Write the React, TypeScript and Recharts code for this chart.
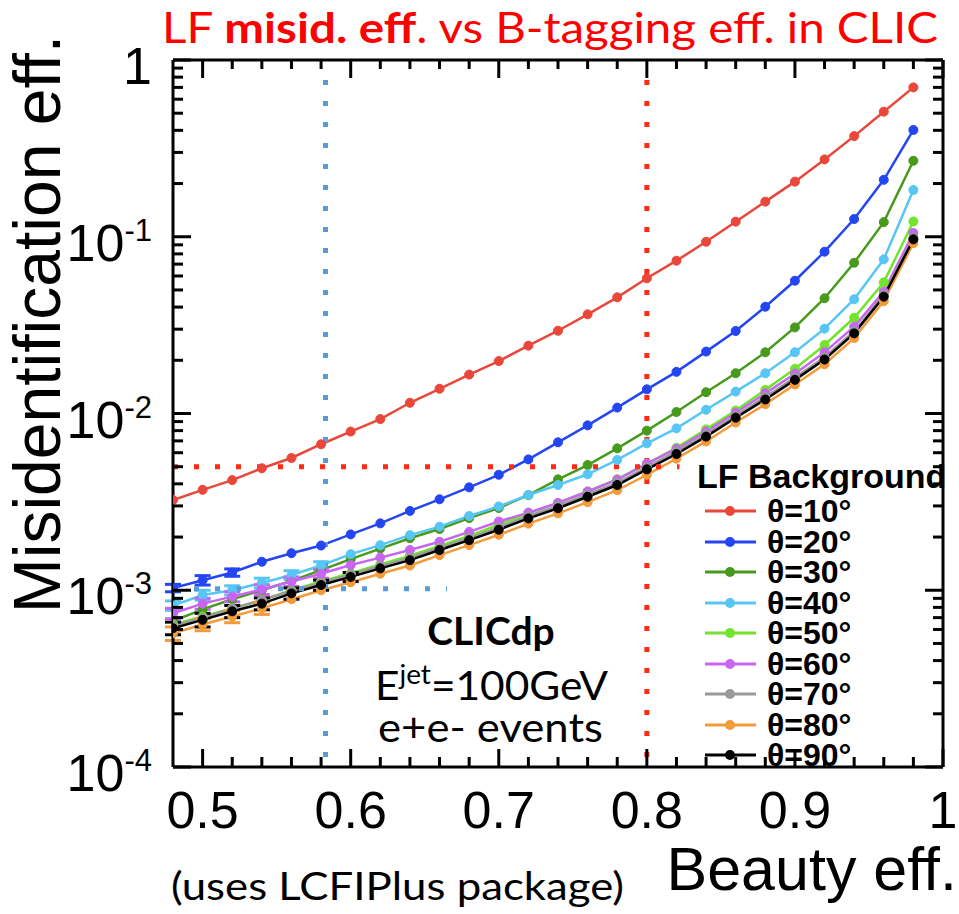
import React from 'react';
import { LineChart, Line, XAxis, YAxis, ReferenceLine, Legend, ErrorBar } from 'recharts';

// beauty (b-tagging) efficiency, one point every 0.02
const beautyEff = [0.48, 0.5, 0.52, 0.54, 0.56, 0.58, 0.6, 0.62, 0.64, 0.66, 0.68, 0.7, 0.72,
  0.74, 0.76, 0.78, 0.8, 0.82, 0.84, 0.86, 0.88, 0.9, 0.92, 0.94, 0.96, 0.98];

// LF misidentification efficiency per polar angle
const theta10 = [3.24e-3, 3.7e-3, 4.2e-3, 4.9e-3, 5.6e-3, 6.7e-3, 7.9e-3, 9.3e-3, 0.0115, 0.0138, 0.0166,
  0.0198, 0.0242, 0.0294, 0.0364, 0.0454, 0.0582, 0.0732, 0.0937, 0.1217, 0.158, 0.205, 0.274, 0.371, 0.51, 0.7];
const theta20 = [1.03e-3, 1.14e-3, 1.26e-3, 1.45e-3, 1.62e-3, 1.79e-3, 2.07e-3, 2.39e-3, 2.81e-3, 3.27e-3,
  3.82e-3, 4.5e-3, 5.5e-3, 6.87e-3, 8.57e-3, 0.0108, 0.0137, 0.0172, 0.0224, 0.0293, 0.0402, 0.0564, 0.0823,
  0.126, 0.21, 0.402];
const theta30 = [6.7e-4, 7.8e-4, 8.9e-4, 1.0e-3, 1.13e-3, 1.3e-3, 1.5e-3, 1.72e-3, 1.97e-3, 2.22e-3, 2.56e-3,
  2.92e-3, 3.45e-3, 4.24e-3, 5.11e-3, 6.35e-3, 8.0e-3, 0.0102, 0.0132, 0.0169, 0.0222, 0.0307, 0.0449, 0.0713,
  0.121, 0.269];
const theta40 = [8.2e-4, 9.4e-4, 1.0e-3, 1.1e-3, 1.22e-3, 1.38e-3, 1.6e-3, 1.8e-3, 2.05e-3, 2.29e-3, 2.63e-3,
  2.98e-3, 3.46e-3, 3.94e-3, 4.53e-3, 5.46e-3, 6.78e-3, 8.24e-3, 0.0105, 0.0133, 0.0169, 0.0222, 0.0302, 0.0443,
  0.0745, 0.184];
const theta50 = [6.4e-4, 7.1e-4, 7.9e-4, 8.8e-4, 1.0e-3, 1.12e-3, 1.25e-3, 1.4e-3, 1.57e-3, 1.78e-3, 2.03e-3,
  2.35e-3, 2.72e-3, 3.12e-3, 3.62e-3, 4.25e-3, 5.2e-3, 6.4e-3, 8.13e-3, 0.0104, 0.0136, 0.0179, 0.0244, 0.0348,
  0.0552, 0.122];
const theta60 = [7.4e-4, 8.4e-4, 9.2e-4, 1.01e-3, 1.12e-3, 1.24e-3, 1.39e-3, 1.53e-3, 1.69e-3, 1.88e-3, 2.14e-3,
  2.45e-3, 2.75e-3, 3.12e-3, 3.62e-3, 4.22e-3, 5.2e-3, 6.3e-3, 7.9e-3, 0.0101, 0.013, 0.0168, 0.0222, 0.031,
  0.0489, 0.105];
const theta70 = [6.3e-4, 7.0e-4, 7.9e-4, 8.8e-4, 9.9e-4, 1.1e-3, 1.23e-3, 1.37e-3, 1.53e-3, 1.74e-3, 1.98e-3,
  2.27e-3, 2.63e-3, 3.0e-3, 3.48e-3, 4.05e-3, 4.97e-3, 6.08e-3, 7.6e-3, 9.7e-3, 0.0124, 0.016, 0.0208, 0.0292,
  0.047, 0.099];
const theta80 = [5.7e-4, 6.4e-4, 7.1e-4, 7.9e-4, 8.9e-4, 1.0e-3, 1.11e-3, 1.24e-3, 1.38e-3, 1.58e-3, 1.8e-3,
  2.06e-3, 2.38e-3, 2.72e-3, 3.15e-3, 3.68e-3, 4.5e-3, 5.55e-3, 6.95e-3, 8.9e-3, 0.0113, 0.0146, 0.019, 0.0267,
  0.0432, 0.092];
const theta90 = [6.1e-4, 6.8e-4, 7.6e-4, 8.4e-4, 9.6e-4, 1.07e-3, 1.19e-3, 1.33e-3, 1.48e-3, 1.69e-3, 1.92e-3,
  2.2e-3, 2.55e-3, 2.91e-3, 3.38e-3, 3.94e-3, 4.83e-3, 5.9e-3, 7.4e-3, 9.47e-3, 0.012, 0.0155, 0.0202, 0.0284,
  0.0458, 0.0967];

// stat. errors, only visible on the first few points
const err20 = [5e-5, 7e-5, 6e-5];
const err40 = [5e-5, 6e-5, 6e-5, 7e-5, 7e-5, 7e-5];
const err60 = [5e-5, 6e-5, 6e-5, 6.5e-5, 7e-5, 7e-5];
const err80 = [5e-5, 5e-5, 5.5e-5, 6e-5];
const err90 = [5e-5, 6e-5, 6e-5, 6.5e-5, 7e-5, 7e-5, 7e-5];

const seriesNames = ['θ=10°', 'θ=20°', 'θ=30°', 'θ=40°', 'θ=50°', 'θ=60°', 'θ=70°', 'θ=80°', 'θ=90°'];
const seriesColors = ['#e9473a', '#2446f2', '#479a1c', '#57c6f4', '#72e42c', '#c866f2', '#9a9a9a', '#f39b3a', '#000000'];

const xTicks = [0.5, 0.52, 0.54, 0.56, 0.58, 0.6, 0.62, 0.64, 0.66, 0.68, 0.7, 0.72, 0.74, 0.76, 0.78, 0.8,
  0.82, 0.84, 0.86, 0.88, 0.9, 0.92, 0.94, 0.96, 0.98, 1];
const yTicks = [1e-4, 2e-4, 3e-4, 4e-4, 5e-4, 6e-4, 7e-4, 8e-4, 9e-4,
  1e-3, 2e-3, 3e-3, 4e-3, 5e-3, 6e-3, 7e-3, 8e-3, 9e-3,
  1e-2, 2e-2, 3e-2, 4e-2, 5e-2, 6e-2, 7e-2, 8e-2, 9e-2,
  1e-1, 2e-1, 3e-1, 4e-1, 5e-1, 6e-1, 7e-1, 8e-1, 9e-1, 1];
const yMajorExp = [-4, -3, -2, -1, 0];

// working point guides: [x1, y1, x2, y2]
const redVertical = [0.8, 0.77, 0.8, 1e-4];
const redHorizontal = [0.48, 5e-3, 0.822, 5e-3];
const blueVertical = [0.583, 0.77, 0.583, 1e-4];
const blueHorizontal = [0.48, 1.02e-3, 0.665, 1.02e-3];

const seriesValues = [theta10, theta20, theta30, theta40, theta50, theta60, theta70, theta80, theta90];
const seriesErrors: Record<number, number[]> = { 1: err20, 3: err40, 5: err60, 7: err80, 8: err90 };

const data = beautyEff.map((x, i) => {
  const row: any = { x };
  seriesValues.forEach((vals, k) => {
    row['s' + k] = vals[i];
    const e = seriesErrors[k];
    if (e && e[i] !== undefined) row['e' + k] = e[i];
  });
  return row;
});

const SANS = '"Liberation Sans", Arial, Helvetica, sans-serif';
const CAL = 'Lato, "Open Sans", sans-serif';

const isMajorX = (v: number) => Math.abs(v * 10 - Math.round(v * 10)) < 1e-6;
const logExp = (v: number) => Math.round(Math.log10(v));
const isMajorY = (v: number) => yMajorExp.some((e) => Math.abs(Math.log10(v) - e) < 1e-6);

const BottomTick = (props: any) => {
  const { x, y, payload } = props;
  const v = payload.value;
  const major = isMajorX(v);
  return (
    <g>
      <line x1={x} y1={y} x2={x} y2={y - (major ? 18 : 10)} stroke="#000" strokeWidth={3} />
      {major && (
        <text x={x} y={y + 61} textAnchor="middle" fontSize={52} fontFamily={SANS} fill="#000">
          {String(Math.round(v * 10) / 10)}
        </text>
      )}
    </g>
  );
};

const TopTick = (props: any) => {
  const { x, y, payload } = props;
  const major = isMajorX(payload.value);
  return <line x1={x} y1={y} x2={x} y2={y + (major ? 18 : 9)} stroke="#000" strokeWidth={3} />;
};

const LeftTick = (props: any) => {
  const { x, y, payload } = props;
  const v = payload.value;
  const major = isMajorY(v);
  const ex = logExp(v);
  return (
    <g>
      <line x1={x} y1={y} x2={x + (major ? 18 : 10)} y2={y} stroke="#000" strokeWidth={3} />
      {major && (
        <text x={x - 21} y={y + 24} textAnchor="end" fontSize={52} fontFamily={SANS} fill="#000">
          {ex === 0 ? '1' : (
            <>
              <tspan>10</tspan>
              <tspan dy={-20} fontSize={31}>{String(ex)}</tspan>
            </>
          )}
        </text>
      )}
    </g>
  );
};

const RightTick = (props: any) => {
  const { x, y, payload } = props;
  const major = isMajorY(payload.value);
  return <line x1={x} y1={y} x2={x - (major ? 18 : 10)} y2={y} stroke="#000" strokeWidth={3} />;
};

const renderLegend = (props: any) => {
  const { payload } = props;
  return (
    <div style={{ fontFamily: SANS, fontWeight: 'bold', color: '#000', whiteSpace: 'nowrap' }}>
      <div style={{ fontSize: 34, lineHeight: '40px', height: 40 }}>LF Background</div>
      {(payload || []).map((entry: any) => (
        <div key={entry.value} style={{ display: 'flex', alignItems: 'center', height: 30.5 }}>
          <svg width={62} height={30} style={{ marginLeft: 8, display: 'block' }}>
            <line x1={0} y1={15} x2={51} y2={15} stroke={entry.color} strokeWidth={3} />
            <circle cx={25} cy={15} r={5} fill={entry.color} />
          </svg>
          <span style={{ fontSize: 32, lineHeight: '30px' }}>{entry.value}</span>
        </div>
      ))}
    </div>
  );
};

const guide = (seg: number[], color: string, key: string) => (
  <ReferenceLine
    key={key}
    xAxisId="bottom"
    yAxisId="left"
    segment={[{ x: seg[0], y: seg[1] }, { x: seg[2], y: seg[3] }]}
    stroke={color}
    strokeWidth={5}
    strokeDasharray="5 16"
    ifOverflow="visible"
  />
);

export default function App() {
  return (
    <div style={{ position: 'absolute', left: 0, top: 0, width: 959, height: 914, background: '#fff' }}>
      <LineChart width={959} height={914} data={data} margin={{ top: 59, right: 15, bottom: 146, left: 172 }}>
        <XAxis xAxisId="bottom" dataKey="x" type="number" domain={[0.48, 1]} allowDataOverflow ticks={xTicks}
          interval={0} height={1} tickSize={0} tickMargin={0} tickLine={false}
          axisLine={{ stroke: '#000', strokeWidth: 3 }} tick={<BottomTick />} />
        <XAxis xAxisId="top" orientation="top" dataKey="x" type="number" domain={[0.48, 1]} allowDataOverflow
          ticks={xTicks} interval={0} height={1} tickSize={0} tickMargin={0} tickLine={false}
          axisLine={{ stroke: '#000', strokeWidth: 3 }} tick={<TopTick />} />
        <YAxis yAxisId="left" type="number" scale="log" domain={[1e-4, 1]} allowDataOverflow ticks={yTicks}
          interval={0} width={1} tickSize={0} tickMargin={0} tickLine={false}
          axisLine={{ stroke: '#000', strokeWidth: 3 }} tick={<LeftTick />} />
        <YAxis yAxisId="right" orientation="right" type="number" scale="log" domain={[1e-4, 1]} allowDataOverflow
          ticks={yTicks} interval={0} width={1} tickSize={0} tickMargin={0} tickLine={false}
          axisLine={{ stroke: '#000', strokeWidth: 3 }} tick={<RightTick />} />

        {seriesNames.map((name, k) => (
          <Line
            key={name}
            xAxisId="bottom"
            yAxisId="left"
            dataKey={'s' + k}
            name={name}
            stroke={seriesColors[k]}
            strokeWidth={2.5}
            dot={{ r: 4.5, fill: seriesColors[k], stroke: seriesColors[k], strokeWidth: 1 }}
            isAnimationActive={false}
          >
            {seriesErrors[k] && (
              <ErrorBar dataKey={'e' + k} direction="y" width={8} strokeWidth={3} stroke={seriesColors[k]}
                isAnimationActive={false} />
            )}
          </Line>
        ))}

        {guide(redVertical, '#ff2a12', 'rv')}
        {guide(redHorizontal, '#ff2a12', 'rh')}
        {guide(blueVertical, '#5b9bd5', 'bv')}
        {guide(blueHorizontal, '#5b9bd5', 'bh')}

        <Legend layout="vertical" align="center" verticalAlign="middle" content={renderLegend}
          wrapperStyle={{ left: 697, top: 456, width: 262 }} />
      </LineChart>

      <svg width={959} height={914} style={{ position: 'absolute', left: 0, top: 0, pointerEvents: 'none' }}>
        <text x={162} y={43} fontSize={42} fontFamily={CAL} fill="#ff0000" textLength={776} lengthAdjust="spacingAndGlyphs">
          <tspan>LF </tspan>
          <tspan fontWeight="bold">misid. eff</tspan>
          <tspan>. vs B-tagging eff. in CLIC</tspan>
        </text>
        <text transform="translate(60,324) rotate(-90)" textAnchor="middle" fontSize={66} fontFamily={SANS} fill="#000">
          Misidentification eff.
        </text>
        <text x={957} y={890} textAnchor="end" fontSize={61} fontFamily={SANS} fill="#000">Beauty eff.</text>
        <text x={171} y={900} fontSize={39} fontFamily={CAL} fill="#000" textLength={453} lengthAdjust="spacingAndGlyphs">
          (uses LCFIPlus package)
        </text>
        <text x={491} y={645} textAnchor="middle" fontSize={39} fontWeight="bold" fontFamily={CAL} fill="#000">CLICdp</text>
        <text x={375} y={700} fontSize={41} fontFamily={CAL} fill="#000" textLength={233} lengthAdjust="spacingAndGlyphs">
          <tspan>E</tspan>
          <tspan dy={-16} fontSize={27}>jet</tspan>
          <tspan dy={16}>=100GeV</tspan>
        </text>
        <text x={378} y={742} fontSize={41} fontFamily={CAL} fill="#000" textLength={225} lengthAdjust="spacingAndGlyphs">
          e+e- events
        </text>
      </svg>
    </div>
  );
}
